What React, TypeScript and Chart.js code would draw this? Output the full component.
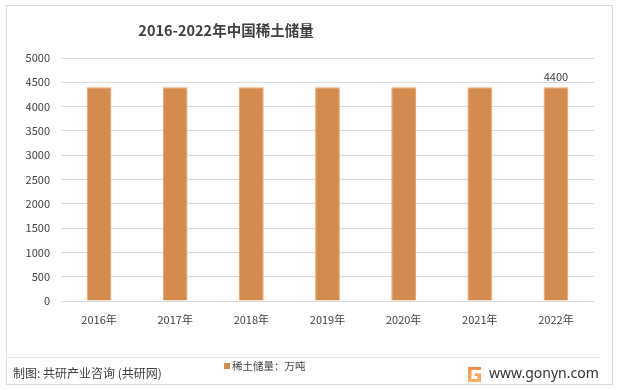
import React, { useEffect, useRef } from "react";
import { Chart, registerables } from "chart.js";

Chart.register(...registerables);

const categories = ["2016年", "2017年", "2018年", "2019年", "2020年", "2021年", "2022年"];
const reserves = [4400, 4400, 4400, 4400, 4400, 4400, 4400];
const labeledIndices = [6];
const seriesName = "稀土储量：万吨";
const titleText = "2016-2022年中国稀土储量";
const yMin = 0;
const yMax = 5000;
const yStep = 500;

const FONT = "'Noto Sans CJK SC', 'Noto Sans', sans-serif";

const dataLabelPlugin = {
  id: "dataLabelPlugin",
  afterDatasetsDraw(chart: any) {
    const ctx = chart.ctx;
    const meta = chart.getDatasetMeta(0);
    ctx.save();
    ctx.font = `11px ${FONT}`;
    ctx.fillStyle = "#404040";
    ctx.textAlign = "center";
    ctx.textBaseline = "bottom";
    labeledIndices.forEach((i) => {
      const el = meta.data[i];
      if (!el) return;
      ctx.fillText(String(reserves[i]), el.x, el.y - 5);
    });
    ctx.restore();
  },
};

export default function App() {
  const canvasRef = useRef<HTMLCanvasElement | null>(null);

  useEffect(() => {
    document.body.style.margin = "0";
    const canvas = canvasRef.current!;
    const chart = new Chart(canvas, {
      type: "bar",
      data: {
        labels: categories,
        datasets: [
          {
            label: seriesName,
            data: reserves,
            backgroundColor: "#D48B4E",
            borderColor: "#E8A46C",
            borderWidth: 1,
            categoryPercentage: 1,
            barPercentage: 0.325,
          },
        ],
      },
      options: {
        responsive: false,
        animation: false,
        devicePixelRatio: 1,
        layout: { padding: { left: 0, right: 23, top: 58, bottom: 59 } },
        plugins: {
          legend: { display: false },
          title: { display: false },
          tooltip: { enabled: false },
        },
        scales: {
          x: {
            grid: { display: false, drawTicks: false },
            border: { display: false },
            ticks: {
              color: "#404040",
              font: { family: FONT, size: 11 },
              padding: 12,
            },
            afterFit(s: any) {
              s.height = 30;
            },
          },
          y: {
            min: yMin,
            max: yMax,
            grid: { color: "#d9d9d9", drawTicks: false, lineWidth: 1 },
            border: { display: false },
            ticks: {
              stepSize: yStep,
              color: "#404040",
              font: { family: FONT, size: 11 },
              padding: 11,
              callback: (v: any) => String(v),
            },
            afterFit(s: any) {
              s.width = 61;
            },
          },
        },
      },
      plugins: [dataLabelPlugin],
    });
    return () => chart.destroy();
  }, []);

  return (
    <div
      style={{
        position: "fixed",
        left: 0,
        top: 0,
        width: 617,
        height: 390,
        background: "#ffffff",
        fontFamily: FONT,
        overflow: "hidden",
      }}
    >
      <div
        style={{
          position: "absolute",
          left: 6,
          top: 5,
          width: 605,
          height: 378,
          border: "1px solid #d9d9d9",
          boxSizing: "content-box",
        }}
      />
      <canvas ref={canvasRef} width={617} height={390} style={{ position: "absolute", left: 0, top: 0 }} />
      <div
        style={{
          position: "absolute",
          left: 0,
          width: 452,
          top: 20,
          textAlign: "center",
          fontWeight: "bold",
          fontSize: 14.5,
          color: "#404040",
          lineHeight: "20px",
          whiteSpace: "nowrap",
        }}
      >
        {titleText}
      </div>
      <div
        style={{
          position: "absolute",
          left: 224,
          top: 359,
          display: "flex",
          alignItems: "center",
          fontSize: 10.5,
          color: "#404040",
          lineHeight: "14px",
          whiteSpace: "nowrap",
        }}
      >
        <span style={{ display: "inline-block", width: 6, height: 6, background: "#D48B4E", marginRight: 2 }} />
        {seriesName}
      </div>
      <div
        style={{
          position: "absolute",
          left: 6,
          top: 357,
          width: 594,
          height: 1,
          background: "#e3e3e3",
        }}
      />
      <div
        style={{
          position: "absolute",
          left: 13,
          top: 364,
          fontSize: 12,
          color: "#404040",
          lineHeight: "18px",
          whiteSpace: "nowrap",
        }}
      >
        制图: 共研产业咨询 (共研网)
      </div>
      <svg
        width={15}
        height={17}
        viewBox="0 0 15 17"
        style={{ position: "absolute", left: 467, top: 366 }}
      >
        <defs>
          <linearGradient id="lg" x1="0" y1="0" x2="0" y2="1">
            <stop offset="0" stopColor="#F58A4B" />
            <stop offset="1" stopColor="#F9B36A" />
          </linearGradient>
        </defs>
        <path d="M1 1 H14 V4 H4.5 V13 H10.5 V10 H7.5 V7.5 H14 V16 H1 Z" fill="url(#lg)" />
      </svg>
      <div
        style={{
          position: "absolute",
          left: 489,
          top: 364,
          fontSize: 14,
          color: "#333333",
          lineHeight: "18px",
          whiteSpace: "nowrap",
          fontFamily: "'Noto Sans', sans-serif",
        }}
      >
        www.gonyn.com
      </div>
    </div>
  );
}
